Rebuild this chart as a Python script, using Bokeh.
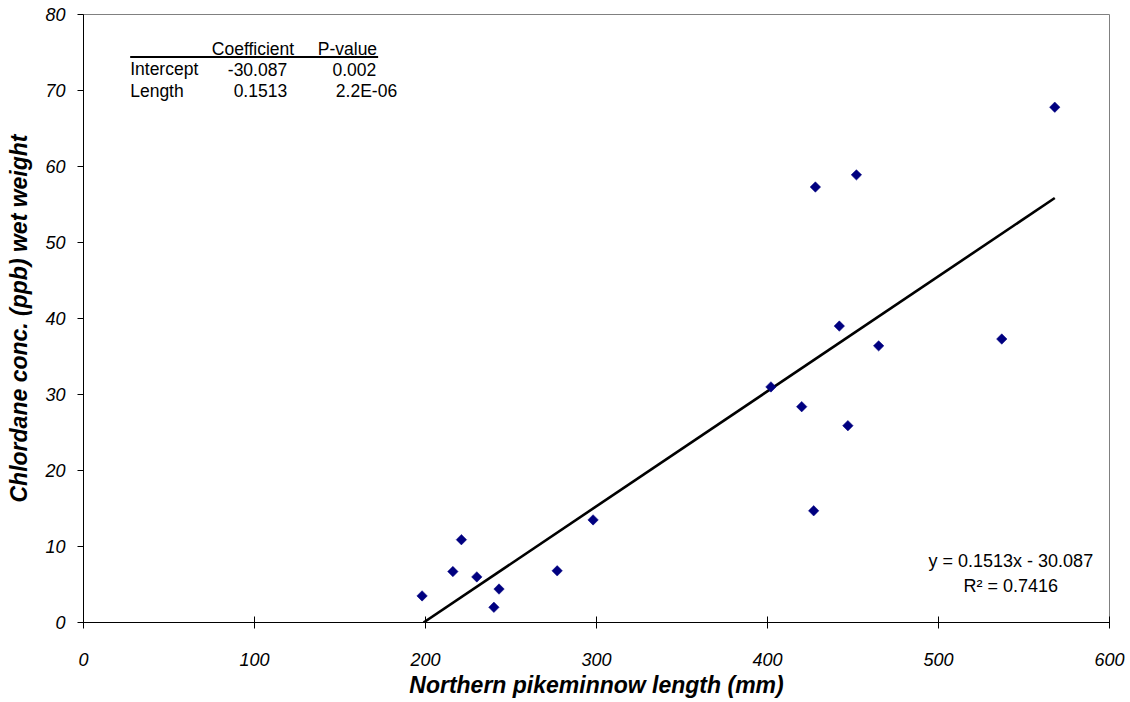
from bokeh.plotting import figure
from bokeh.models import Range1d, Label, FixedTicker
from bokeh.embed import file_html
from bokeh.resources import INLINE
import math

# ---- data ----
lengths = [198, 216, 221, 230, 240, 243, 277, 298, 402, 420, 427, 428, 442, 447, 452, 465, 537, 568]
chlordane = [3.5, 6.7, 10.9, 6.0, 2.0, 4.4, 6.8, 13.5, 31.0, 28.4, 14.7, 57.3, 39.0, 25.9, 58.9, 36.4, 37.3, 67.8]
slope = 0.1513
intercept = -30.087
r_squared = 0.7416
x_ticks = [0, 100, 200, 300, 400, 500, 600]
y_ticks = [0, 10, 20, 30, 40, 50, 60, 70, 80]
table_header = ["Coefficient", "P-value"]
table_rows = ["Intercept", "Length"]
coefficients = ["-30.087", "0.1513"]
p_values = ["0.002", "2.2E-06"]

FONT = "Liberation Sans"

p = figure(width=1130, height=702, output_backend="svg", toolbar_location=None,
           x_range=Range1d(0, 600), y_range=Range1d(0, 80),
           min_border_left=83, min_border_right=21, min_border_top=14, min_border_bottom=80)
p.background_fill_color = "white"
p.border_fill_color = "white"
p.outline_line_color = "#808080"
p.outline_line_width = 1
p.grid.visible = False

for ax in (p.xaxis, p.yaxis):
    ax.axis_line_color = "black"
    ax.major_tick_line_color = "black"
    ax.minor_tick_line_color = None
    ax.major_label_text_font = FONT
    ax.major_label_text_font_style = "italic"
    ax.major_label_text_font_size = "18px"
    ax.major_label_text_color = "black"
    ax.axis_label_text_font = FONT
    ax.axis_label_text_font_style = "bold italic"
    ax.axis_label_text_font_size = "23px"
    ax.axis_label_text_color = "black"

p.xaxis.ticker = FixedTicker(ticks=x_ticks)
p.yaxis.ticker = FixedTicker(ticks=y_ticks)
p.xaxis.major_tick_out = 6
p.xaxis.major_tick_in = 6
p.yaxis.major_tick_out = 6
p.yaxis.major_tick_in = 0
p.xaxis.major_label_standoff = 24
p.yaxis.major_label_standoff = 12
p.xaxis.axis_label = "Northern pikeminnow length (mm)"
p.yaxis.axis_label = "Chlordane conc. (ppb) wet weight"
p.xaxis.axis_label_standoff = 3
p.yaxis.axis_label_standoff = 10

# regression line from the fitted coefficients
x_start = -intercept / slope
x_end = max(lengths)
p.line([x_start, x_end], [slope * x_start + intercept, slope * x_end + intercept],
       line_color="black", line_width=2.6)

# data points (diamonds)
p.scatter(lengths, chlordane, marker="square", angle=math.pi / 4, size=7.4,
          fill_color="#000080", line_color="#000080", line_width=0.5)

# coefficient table (top-left)
def txt(x, y, t, align="left", size="17.5px"):
    p.add_layout(Label(x=x, y=y, text=t, text_font=FONT, text_font_size=size,
                       text_color="black", text_align=align, text_baseline="middle"))

txt(123.2, 75.4, table_header[0], "right")
txt(171.7, 75.4, table_header[1], "right")
p.segment(x0=[27.3], y0=[74.4], x1=[172.3], y1=[74.4], line_color="black", line_width=2)
txt(27.3, 72.8, table_rows[0])
txt(119.1, 72.8, coefficients[0], "right")
txt(171.2, 72.8, p_values[0], "right")
txt(27.3, 70.0, table_rows[1])
txt(119.1, 70.0, coefficients[1], "right")
txt(183.4, 70.0, p_values[1], "right")

# trendline equation (bottom-right)
sign = "-" if intercept < 0 else "+"
txt(542.3, 8.1, f"y = {slope}x {sign} {abs(intercept)}", "center", "18px")
txt(542.3, 4.8, f"R\u00b2 = {r_squared}", "center", "18px")

open("out.html", "w").write(file_html(p, INLINE))
